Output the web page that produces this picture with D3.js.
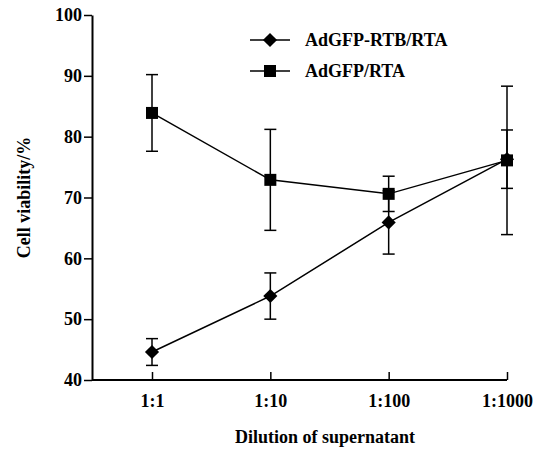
<!DOCTYPE html>
<html>
<head>
<meta charset="utf-8">
<script src="https://cdn.jsdelivr.net/npm/d3@7"></script>
<style>
  body { margin: 0; background: #fff; }
</style>
</head>
<body>
<div id="chart"></div>
<script>
// dilution categories
const dilutions = ['1:1', '1:10', '1:100', '1:1000'];
const yTicks = [40, 50, 60, 70, 80, 90, 100];

// AdGFP-RTB/RTA (diamonds)
const rtbMean = [44.6, 53.8, 65.9, 76.3];
const rtbErr  = [2.2, 3.8, 5.2, 4.8];

// AdGFP/RTA (squares)
const rtaMean = [83.9, 72.9, 70.6, 76.1];
const rtaErr  = [6.3, 8.3, 2.9, 12.2];

const series = [
  { name: 'AdGFP-RTB/RTA', mean: rtbMean, err: rtbErr, symbol: 'diamond' },
  { name: 'AdGFP/RTA', mean: rtaMean, err: rtaErr, symbol: 'square' }
];

const width = 537, height = 450;
const margin = { left: 92, top: 15, right: 30, bottom: 70 };
const FONT = '"Liberation Serif"';

const svg = d3.select('#chart').append('svg')
  .attr('width', width)
  .attr('height', height);

const x = d3.scalePoint()
  .domain(dilutions)
  .range([152, 507]);

const y = d3.scaleLinear()
  .domain([40, 100])
  .range([380, 15]);

// ── axes ──
const axisY = svg.append('g')
  .attr('transform', `translate(${margin.left},0)`)
  .call(d3.axisLeft(y).tickValues(yTicks).tickSize(8).tickPadding(2).tickSizeOuter(0));
axisY.select('.domain').attr('stroke-width', 2);
axisY.selectAll('.tick line').attr('stroke-width', 1.5);

const axisX = svg.append('g')
  .attr('transform', `translate(0,${y(40)})`)
  .call(d3.axisBottom(x).tickSize(-8).tickPadding(14).tickSizeOuter(0));
axisX.select('.domain').attr('d', `M${margin.left},0H${x('1:1000')}`).attr('stroke-width', 2);
axisX.selectAll('.tick line').attr('stroke-width', 1.5);

// axis titles
svg.append('text')
  .attr('transform', `translate(30,${(y(40) + y(100)) / 2}) rotate(-90)`)
  .attr('text-anchor', 'middle')
  .text('Cell viability/%');

svg.append('text')
  .attr('x', 325)
  .attr('y', 443)
  .attr('text-anchor', 'middle')
  .text('Dilution of supernatant');

// ── data ──
// diamond = square turned 45°
const markPath = s => s === 'diamond'
  ? d3.symbol().type(d3.symbolSquare).size(100)()
  : d3.symbol().type(d3.symbolSquare).size(144)();
const markRot = s => s === 'diamond' ? ' rotate(45)' : '';

const line = d3.line()
  .x(d => x(d.cat))
  .y(d => y(d.v));

const capW = 6;

series.forEach(s => {
  const pts = dilutions.map((c, i) => ({ cat: c, v: s.mean[i], e: s.err[i] }));

  const g = svg.append('g');

  // error bars
  const eb = g.selectAll('g.err').data(pts).join('g').attr('class', 'err');
  eb.append('line')
    .attr('x1', d => x(d.cat)).attr('x2', d => x(d.cat))
    .attr('y1', d => y(d.v - d.e)).attr('y2', d => y(d.v + d.e))
    .attr('stroke', '#000').attr('stroke-width', 1.5);
  eb.append('line')
    .attr('x1', d => x(d.cat) - capW).attr('x2', d => x(d.cat) + capW)
    .attr('y1', d => y(d.v + d.e)).attr('y2', d => y(d.v + d.e))
    .attr('stroke', '#000').attr('stroke-width', 1.5);
  eb.append('line')
    .attr('x1', d => x(d.cat) - capW).attr('x2', d => x(d.cat) + capW)
    .attr('y1', d => y(d.v - d.e)).attr('y2', d => y(d.v - d.e))
    .attr('stroke', '#000').attr('stroke-width', 1.5);

  g.append('path')
    .datum(pts)
    .attr('d', line)
    .attr('fill', 'none')
    .attr('stroke', '#000')
    .attr('stroke-width', 1.5);

  g.selectAll('path.mark').data(pts).join('path')
    .attr('class', 'mark')
    .attr('transform', d => `translate(${x(d.cat)},${y(d.v)})${markRot(s.symbol)}`)
    .attr('d', markPath(s.symbol))
    .attr('fill', '#000');
});

// ── legend ──
const legend = svg.append('g');
series.forEach((s, i) => {
  const ly = 40 + i * 31;
  legend.append('line')
    .attr('x1', 250).attr('x2', 290)
    .attr('y1', ly).attr('y2', ly)
    .attr('stroke', '#000').attr('stroke-width', 1.5);
  legend.append('path')
    .attr('transform', `translate(270,${ly})${markRot(s.symbol)}`)
    .attr('d', markPath(s.symbol))
    .attr('fill', '#000');
  legend.append('text')
    .attr('x', 305)
    .attr('y', ly + 6)
    .text(s.name);
});

// one font for every text, set on the element itself
svg.selectAll('text')
  .attr('font-family', FONT)
  .attr('font-weight', 'bold')
  .attr('font-size', 18);
</script>
</body>
</html>
